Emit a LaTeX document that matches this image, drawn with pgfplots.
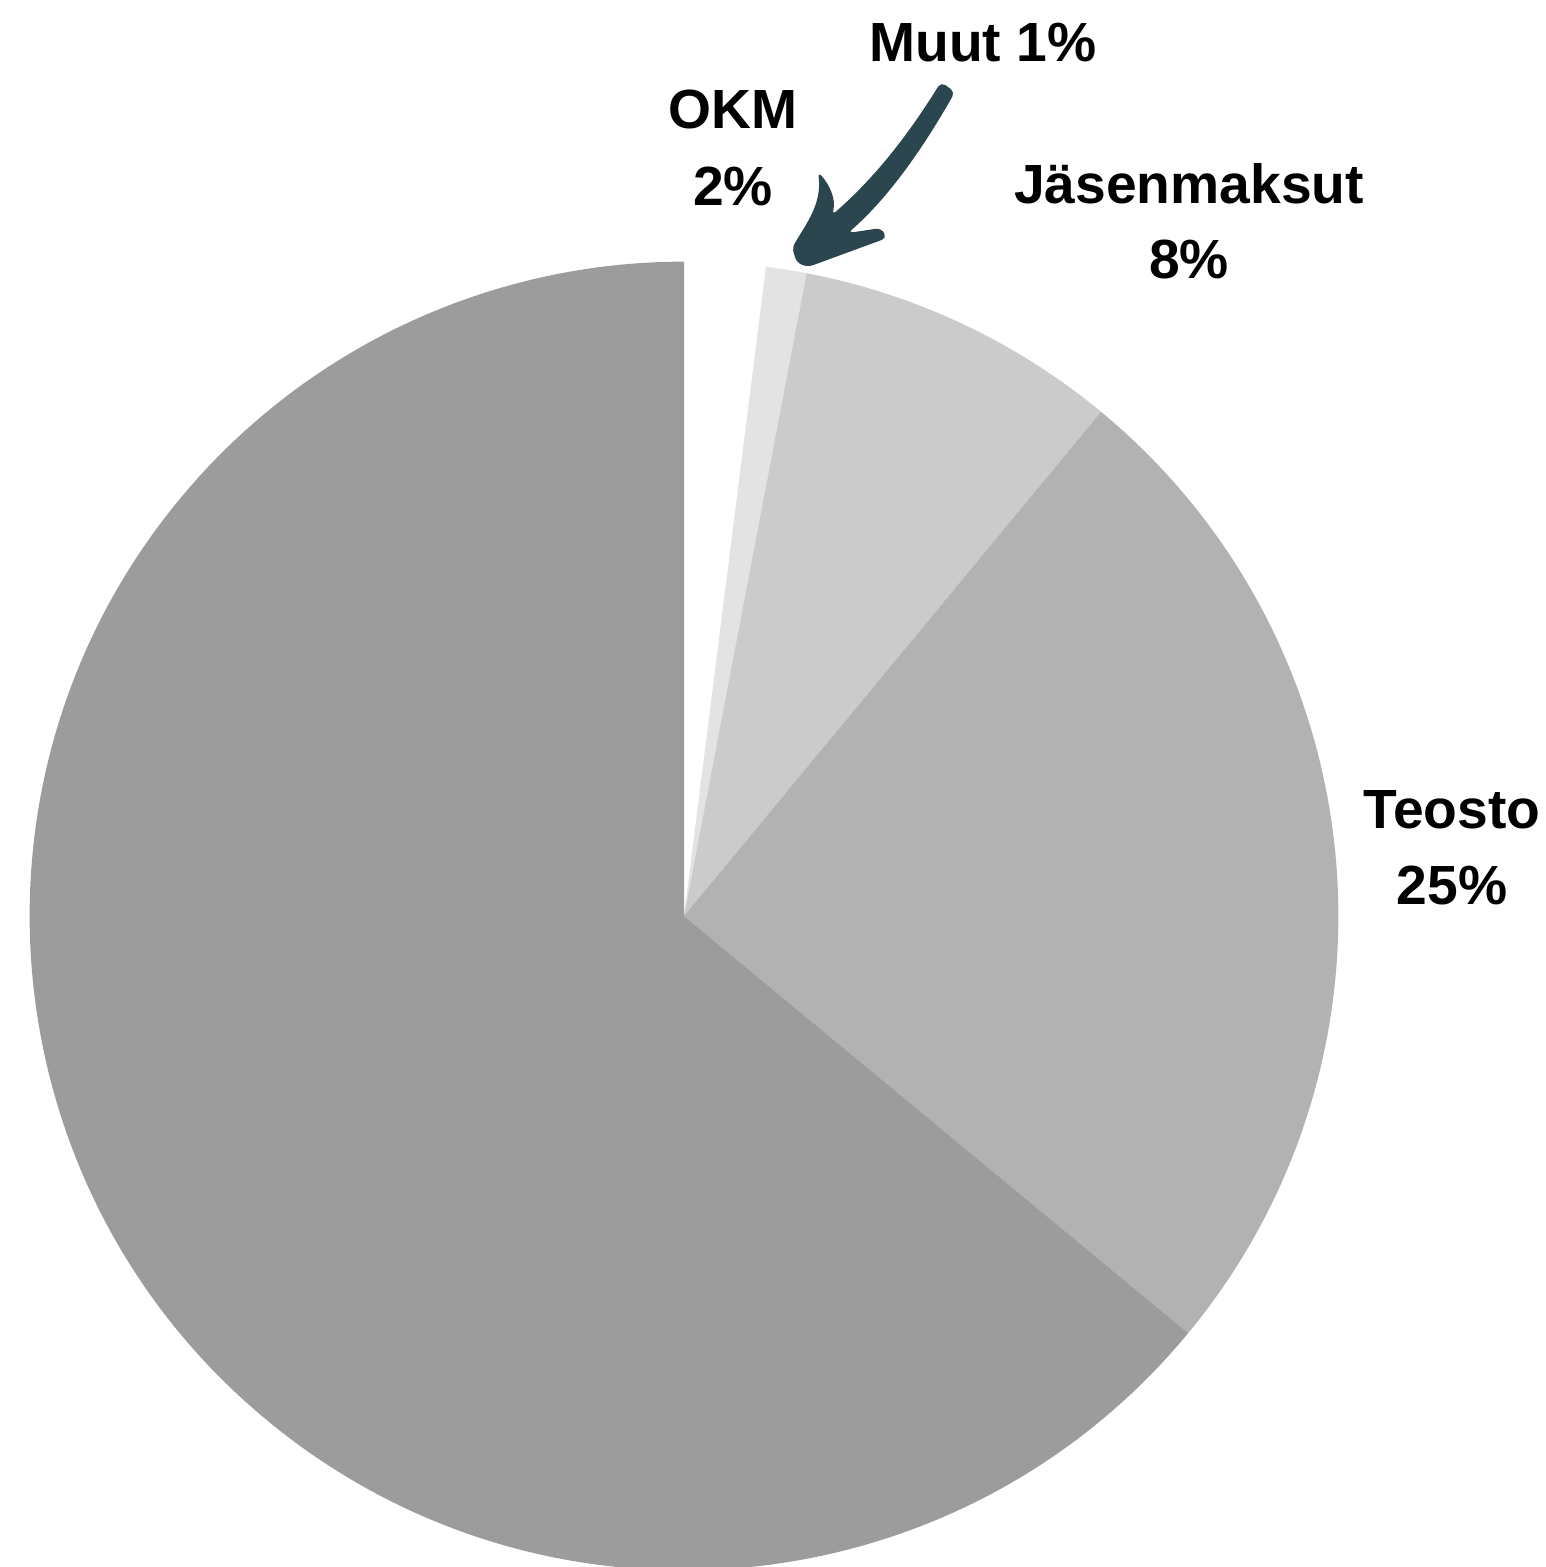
\documentclass[border=0pt]{standalone}
\usepackage{pgfplots}
\pgfplotsset{compat=1.18}
\usepackage{pgfplotstable}
\usepackage{fontspec}
\setmainfont{Liberation Sans}
\definecolor{okmcol}{HTML}{FFFFFF}
\definecolor{muutcol}{HTML}{E3E3E3}
\definecolor{jascol}{HTML}{CBCBCB}
\definecolor{teocol}{HTML}{B2B2B2}
\definecolor{restcol}{HTML}{9C9C9C}
\definecolor{arrowcol}{HTML}{2C4650}
\pgfplotstableread{
name value colour
OKM 2 okmcol
Muut 1 muutcol
Jasenmaksut 8 jascol
Teosto 25 teocol
Muu 64 restcol
}\piedata
\begin{document}
\begin{tikzpicture}
\begin{axis}[
  x=0.01cm, y=0.01cm,
  xmin=0, xmax=1546, ymin=0, ymax=1567,
  y dir=reverse,
  hide axis,
  clip=true,
]
\path (axis cs:0,0) rectangle (axis cs:1546,1567);
\def\cum{0}
\pgfplotsforeachungrouped \r in {0,...,4}{%
  \pgfplotstablegetelem{\r}{value}\of\piedata
  \let\val\pgfplotsretval
  \pgfplotstablegetelem{\r}{colour}\of\piedata
  \let\colr\pgfplotsretval
  \pgfmathsetmacro\angA{90-\cum*3.6}%
  \pgfmathsetmacro\angB{90-(\cum+\val)*3.6}%
  \edef\temp{\noexpand\fill[\colr] (axis cs:684,916) -- ++(\angA:6.54cm) arc[start angle=\angA, end angle=\angB, radius=6.54cm] -- cycle;}%
  \temp
  \pgfmathsetmacro\cum{\cum+\val}%
}
% arrow
\fill[arrowcol, rounded corners=1.5pt]
  (955,92) .. controls (922,150) and (888,198) .. (848,233)
  -- (881,228) -- (887,238) -- (808,267) -- (797,263) -- (792,248)
  .. controls (806,224) and (822,204) .. (818,172)
  .. controls (830,185) and (836,200) .. (832,215)
  .. controls (872,180) and (905,140) .. (941,82) -- cycle;
\begin{scope}[every node/.style={anchor=base, inner sep=0pt, font=\fontsize{15.7}{19}\selectfont\bfseries}]
\node at (axis cs:983,61) {Muut 1\%};
\node at (axis cs:733,128) {OKM};
\node at (axis cs:733,205) {2\%};
\node at (axis cs:1189,203) {Jäsenmaksut};
\node at (axis cs:1189,278) {8\%};
\node at (axis cs:1452,828) {Teosto};
\node at (axis cs:1452,904) {25\%};
\end{scope}
\end{axis}
\end{tikzpicture}
\end{document}
